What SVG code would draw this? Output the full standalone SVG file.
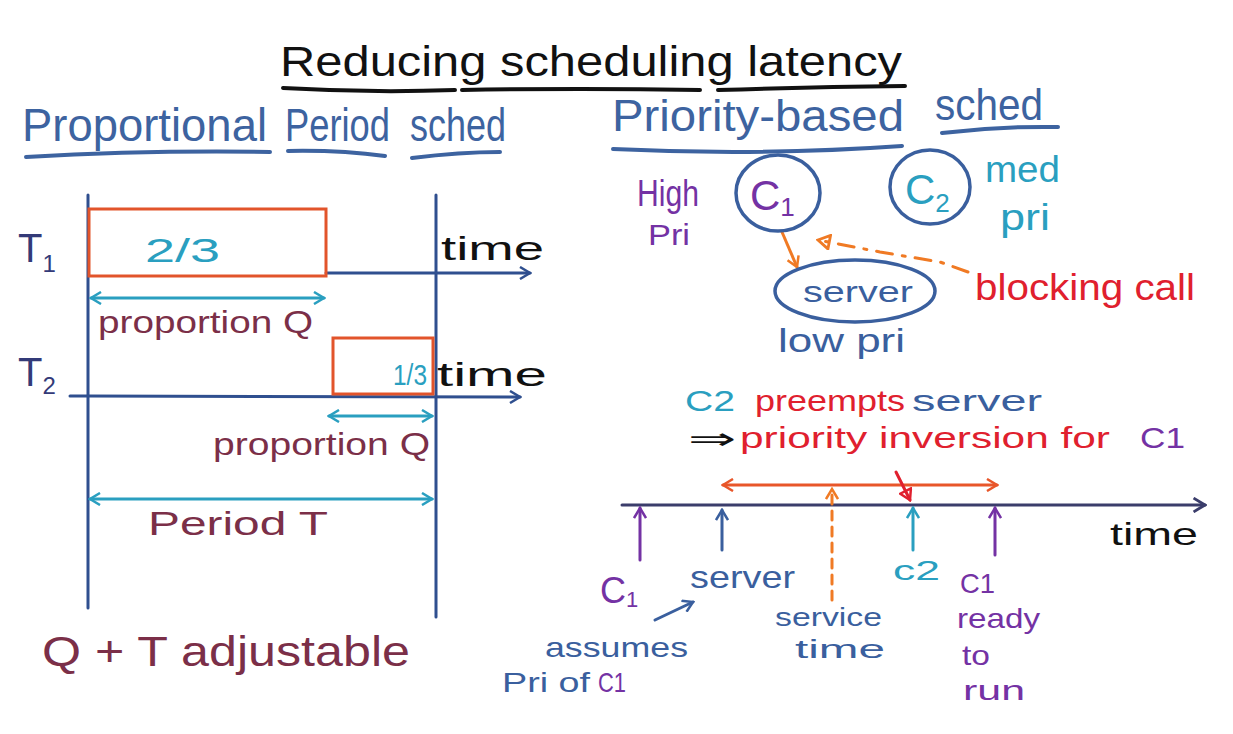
<svg xmlns="http://www.w3.org/2000/svg" width="1233" height="734" viewBox="0 0 1233 734">
<style>
text{font-family:"Liberation Sans","Noto Sans",sans-serif;}
.blk{fill:#111;}
.hdr{fill:#3d63a0;}
.navy{fill:#333a78;}
.teal{fill:#2a9fc0;}
.mar{fill:#7b2f48;}
.pur{fill:#7432a4;}
.red{fill:#e0202e;}
.blu{fill:#3a5f9e;}
.ul{fill:none;stroke-width:4;stroke-linecap:round;}
.ln{fill:none;stroke-width:3;stroke-linecap:round;}
</style>
<defs>
<marker id="mNavy" viewBox="0 0 14 14" refX="12" refY="7" markerWidth="14" markerHeight="14" markerUnits="userSpaceOnUse" orient="auto-start-reverse"><path d="M2,1 L12,7 L2,13" fill="none" stroke="#2f4f8f" stroke-width="2.5"/></marker>
<marker id="mAxis" viewBox="0 0 14 14" refX="12" refY="7" markerWidth="16" markerHeight="16" markerUnits="userSpaceOnUse" orient="auto-start-reverse"><path d="M2,1 L12,7 L2,13" fill="none" stroke="#3b3d6b" stroke-width="2.5"/></marker>
<marker id="mTeal" viewBox="0 0 14 14" refX="12" refY="7" markerWidth="14" markerHeight="14" markerUnits="userSpaceOnUse" orient="auto-start-reverse"><path d="M2,1 L12,7 L2,13" fill="none" stroke="#2a9fc0" stroke-width="2.5"/></marker>
<marker id="mOr" viewBox="0 0 14 14" refX="12" refY="7" markerWidth="14" markerHeight="14" markerUnits="userSpaceOnUse" orient="auto-start-reverse"><path d="M2,1 L12,7 L2,13" fill="none" stroke="#e8562a" stroke-width="2.5"/></marker>
<marker id="mOr2" viewBox="0 0 14 14" refX="12" refY="7" markerWidth="14" markerHeight="14" markerUnits="userSpaceOnUse" orient="auto-start-reverse"><path d="M2,1 L12,7 L2,13" fill="none" stroke="#f07a24" stroke-width="2.5"/></marker>
<marker id="mOrTri" viewBox="0 0 14 14" refX="12" refY="7" markerWidth="16" markerHeight="16" markerUnits="userSpaceOnUse" orient="auto"><path d="M2,1 L12,7 L2,13 Z" fill="none" stroke="#f07a24" stroke-width="2.5"/></marker>
<marker id="mPur" viewBox="0 0 14 14" refX="12" refY="7" markerWidth="14" markerHeight="14" markerUnits="userSpaceOnUse" orient="auto"><path d="M2,1 L12,7 L2,13" fill="none" stroke="#7432a4" stroke-width="2.5"/></marker>
<marker id="mBlu" viewBox="0 0 14 14" refX="12" refY="7" markerWidth="14" markerHeight="14" markerUnits="userSpaceOnUse" orient="auto"><path d="M2,1 L12,7 L2,13" fill="none" stroke="#3a5f9e" stroke-width="2.5"/></marker>
<marker id="mRed" viewBox="0 0 14 14" refX="12" refY="7" markerWidth="14" markerHeight="14" markerUnits="userSpaceOnUse" orient="auto"><path d="M2,1 L12,7 L2,13 Z" fill="none" stroke="#e0202e" stroke-width="2.5"/></marker>
</defs>

<g id="title">
<text class="blk" x="280" y="76" font-size="42" textLength="622" lengthAdjust="spacingAndGlyphs">Reducing scheduling latency</text>
<path class="ul" stroke="#111" d="M283,88 Q370,93 455,90 M462,90 Q580,88 700,90 M718,90 Q810,87 905,86"/>
</g>

<g id="hdr-left">
<text class="hdr" x="22" y="141" font-size="46" textLength="245" lengthAdjust="spacingAndGlyphs">Proportional</text>
<text class="hdr" x="285" y="141" font-size="46" textLength="105" lengthAdjust="spacingAndGlyphs">Period</text>
<text class="hdr" x="410" y="141" font-size="46" textLength="96" lengthAdjust="spacingAndGlyphs">sched</text>
<path class="ul" stroke="#3d63a0" d="M26,157 Q150,150 270,152 M288,151 Q340,150 385,156 M412,158 Q460,152 500,152"/>
</g>

<g id="hdr-right">
<text class="hdr" x="612" y="131" font-size="44" textLength="292" lengthAdjust="spacingAndGlyphs">Priority-based</text>
<text class="hdr" x="935" y="120" font-size="44" textLength="108" lengthAdjust="spacingAndGlyphs">sched</text>
<path class="ul" stroke="#3d63a0" d="M613,149 Q760,156 902,146 M942,133 Q1000,126 1058,127"/>
</g>

<g id="connectors">
<line class="ln" stroke="#2f4f8f" x1="88" y1="195" x2="88" y2="608"/>
<line class="ln" stroke="#2f4f8f" x1="436" y1="195" x2="436" y2="617"/>
<line class="ln" stroke="#2f4f8f" x1="326" y1="273" x2="530" y2="273" marker-end="url(#mNavy)"/>
<path class="ln" stroke="#2f4f8f" d="M70,396 L88,396 L520,397" marker-end="url(#mNavy)"/>
<line class="ln" stroke="#2a9fc0" x1="91" y1="298" x2="324" y2="298" marker-start="url(#mTeal)" marker-end="url(#mTeal)"/>
<line class="ln" stroke="#2a9fc0" x1="329" y1="416" x2="432" y2="416" marker-start="url(#mTeal)" marker-end="url(#mTeal)"/>
<line class="ln" stroke="#2a9fc0" x1="90" y1="499" x2="432" y2="499" marker-start="url(#mTeal)" marker-end="url(#mTeal)"/>

<line class="ln" stroke="#f07a24" x1="782" y1="232" x2="797" y2="267" marker-end="url(#mOr2)"/>
<path class="ln" stroke="#f07a24" stroke-dasharray="16,10,3,10" d="M968,272 L940,262 L880,252 L818,240" marker-end="url(#mOrTri)"/>

<line class="ln" stroke="#3b3d6b" x1="622" y1="505" x2="1205" y2="505" marker-end="url(#mAxis)"/>
<line class="ln" stroke="#e8562a" x1="723" y1="485" x2="997" y2="485" marker-start="url(#mOr)" marker-end="url(#mOr)"/>
<line class="ln" stroke="#e0202e" x1="896" y1="472" x2="910" y2="500" marker-end="url(#mRed)"/>
<line class="ln" stroke="#7432a4" x1="640" y1="560" x2="640" y2="508" marker-end="url(#mPur)"/>
<line class="ln" stroke="#3a5f9e" x1="722" y1="550" x2="722" y2="510" marker-end="url(#mBlu)"/>
<line class="ln" stroke="#f07a24" stroke-dasharray="9,7" x1="832" y1="600" x2="832" y2="489" marker-end="url(#mOr2)"/>
<line class="ln" stroke="#2a9fc0" x1="913" y1="550" x2="913" y2="508" marker-end="url(#mTeal)"/>
<line class="ln" stroke="#7432a4" x1="995" y1="555" x2="995" y2="508" marker-end="url(#mPur)"/>
<line class="ln" stroke="#3a5f9e" x1="655" y1="620" x2="693" y2="602" marker-end="url(#mBlu)"/>
</g>

<g id="T1">
<text class="navy" x="18" y="262" font-size="40">T<tspan font-size="24" dy="10">1</tspan></text>
</g>
<g id="T1-slice">
<rect x="89" y="209" width="237" height="67" fill="none" stroke="#e2542b" stroke-width="3"/>
<text class="teal" x="145" y="262" font-size="34" textLength="75" lengthAdjust="spacingAndGlyphs">2/3</text>
</g>
<text class="blk" x="441" y="260" font-size="34" textLength="103" lengthAdjust="spacingAndGlyphs">time</text>
<text class="mar" x="98" y="333" font-size="32" textLength="215" lengthAdjust="spacingAndGlyphs">proportion Q</text>

<g id="T2">
<text class="navy" x="18" y="386" font-size="40">T<tspan font-size="24" dy="8">2</tspan></text>
</g>
<g id="T2-slice">
<rect x="333" y="338" width="100" height="56" fill="none" stroke="#e2542b" stroke-width="3"/>
<text class="teal" x="393" y="385" font-size="30" textLength="34" lengthAdjust="spacingAndGlyphs">1/3</text>
</g>
<text class="blk" x="437" y="386" font-size="34" textLength="110" lengthAdjust="spacingAndGlyphs">time</text>
<text class="mar" x="213" y="455" font-size="32" textLength="217" lengthAdjust="spacingAndGlyphs">proportion Q</text>
<text class="mar" x="148" y="535" font-size="34" textLength="180" lengthAdjust="spacingAndGlyphs">Period T</text>
<text class="mar" x="42" y="666" font-size="42" textLength="368" lengthAdjust="spacingAndGlyphs">Q + T adjustable</text>

<g id="C1">
<ellipse cx="778" cy="193" rx="42" ry="38" fill="none" stroke="#3a5f9e" stroke-width="3.5"/>
<text class="pur" x="750" y="210" font-size="42">C<tspan font-size="26" dy="6">1</tspan></text>
</g>
<text class="pur" x="637" y="206" font-size="36" textLength="62" lengthAdjust="spacingAndGlyphs">High</text>
<text class="pur" x="648" y="245" font-size="30" textLength="42" lengthAdjust="spacingAndGlyphs">Pri</text>

<g id="C2">
<ellipse cx="930" cy="187" rx="40" ry="37" fill="none" stroke="#3a5f9e" stroke-width="3.5"/>
<text class="teal" x="905" y="204" font-size="42">C<tspan font-size="26" dy="8">2</tspan></text>
</g>
<text class="teal" x="985" y="182" font-size="36" textLength="75" lengthAdjust="spacingAndGlyphs">med</text>
<text class="teal" x="1000" y="230" font-size="36" textLength="50" lengthAdjust="spacingAndGlyphs">pri</text>

<g id="server">
<ellipse cx="855" cy="291" rx="80" ry="31" fill="none" stroke="#3a5f9e" stroke-width="3.5"/>
<text class="blu" x="803" y="302" font-size="30" textLength="110" lengthAdjust="spacingAndGlyphs">server</text>
</g>
<text class="blu" x="778" y="352" font-size="34" textLength="127" lengthAdjust="spacingAndGlyphs">low pri</text>
<text class="red" x="975" y="300" font-size="36" textLength="220" lengthAdjust="spacingAndGlyphs">blocking call</text>

<g id="note">
<text class="teal" x="685" y="411" font-size="30" textLength="50" lengthAdjust="spacingAndGlyphs">C2</text>
<text class="red" x="755" y="411" font-size="30" textLength="150" lengthAdjust="spacingAndGlyphs">preempts</text>
<text class="blu" x="912" y="411" font-size="30" textLength="130" lengthAdjust="spacingAndGlyphs">server</text>
<text class="blk" x="688" y="449" font-size="30" textLength="48" lengthAdjust="spacingAndGlyphs">⇒</text>
<text class="red" x="740" y="448" font-size="30" textLength="370" lengthAdjust="spacingAndGlyphs">priority inversion for</text>
<text class="pur" x="1140" y="448" font-size="30" textLength="45" lengthAdjust="spacingAndGlyphs">C1</text>
</g>

<text class="blk" x="1110" y="545" font-size="32" textLength="88" lengthAdjust="spacingAndGlyphs">time</text>

<g id="ev-c1">
<text class="pur" x="600" y="603" font-size="36">C<tspan font-size="22" dy="4">1</tspan></text>
</g>
<g id="ev-server">
<text class="blu" x="690" y="588" font-size="32" textLength="105" lengthAdjust="spacingAndGlyphs">server</text>
</g>
<g id="ev-assumes">
<text class="blu" x="545" y="657" font-size="28" textLength="143" lengthAdjust="spacingAndGlyphs">assumes</text>
<text class="blu" x="502" y="692" font-size="28" textLength="88" lengthAdjust="spacingAndGlyphs">Pri of</text>
<text class="pur" x="598" y="692" font-size="28" textLength="28" lengthAdjust="spacingAndGlyphs">C1</text>
</g>
<g id="ev-service">
<text class="blu" x="775" y="626" font-size="26" textLength="107" lengthAdjust="spacingAndGlyphs">service</text>
<text class="blu" x="795" y="658" font-size="26" textLength="90" lengthAdjust="spacingAndGlyphs">time</text>
</g>
<g id="ev-c2">
<text class="teal" x="893" y="580" font-size="28" textLength="47" lengthAdjust="spacingAndGlyphs">c2</text>
</g>
<g id="ev-ready">
<text class="pur" x="960" y="593" font-size="28" textLength="35" lengthAdjust="spacingAndGlyphs">C1</text>
<text class="pur" x="957" y="628" font-size="28" textLength="83" lengthAdjust="spacingAndGlyphs">ready</text>
<text class="pur" x="962" y="665" font-size="28" textLength="28" lengthAdjust="spacingAndGlyphs">to</text>
<text class="pur" x="963" y="700" font-size="28" textLength="62" lengthAdjust="spacingAndGlyphs">run</text>
</g>
</svg>
